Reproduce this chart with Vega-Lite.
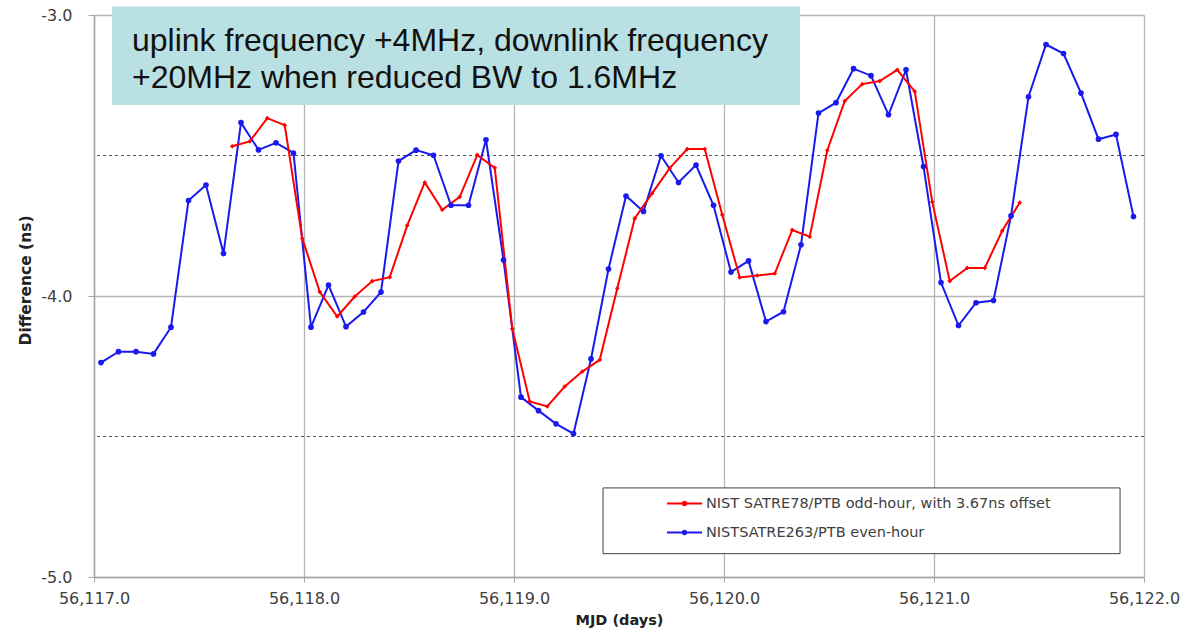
{
  "$schema": "https://vega.github.io/schema/vega-lite/v6.json",
  "width": 1050,
  "height": 562,
  "autosize": "none",
  "padding": {"left": 94, "top": 15, "right": 40, "bottom": 61},
  "background": "white",
  "config": {"view": {"stroke": null}, "font": "DejaVu Sans"},
  "datasets": {
    "d": [
      {"mjd": 56117.0333, "diff": -4.237, "series": "NISTSATRE263/PTB even-hour"},
      {"mjd": 56117.1167, "diff": -4.198, "series": "NISTSATRE263/PTB even-hour"},
      {"mjd": 56117.2000, "diff": -4.198, "series": "NISTSATRE263/PTB even-hour"},
      {"mjd": 56117.2833, "diff": -4.206, "series": "NISTSATRE263/PTB even-hour"},
      {"mjd": 56117.3667, "diff": -4.111, "series": "NISTSATRE263/PTB even-hour"},
      {"mjd": 56117.4500, "diff": -3.660, "series": "NISTSATRE263/PTB even-hour"},
      {"mjd": 56117.5333, "diff": -3.605, "series": "NISTSATRE263/PTB even-hour"},
      {"mjd": 56117.6167, "diff": -3.849, "series": "NISTSATRE263/PTB even-hour"},
      {"mjd": 56117.7000, "diff": -3.383, "series": "NISTSATRE263/PTB even-hour"},
      {"mjd": 56117.7833, "diff": -3.480, "series": "NISTSATRE263/PTB even-hour"},
      {"mjd": 56117.8667, "diff": -3.455, "series": "NISTSATRE263/PTB even-hour"},
      {"mjd": 56117.9500, "diff": -3.491, "series": "NISTSATRE263/PTB even-hour"},
      {"mjd": 56118.0333, "diff": -4.111, "series": "NISTSATRE263/PTB even-hour"},
      {"mjd": 56118.1167, "diff": -3.961, "series": "NISTSATRE263/PTB even-hour"},
      {"mjd": 56118.2000, "diff": -4.109, "series": "NISTSATRE263/PTB even-hour"},
      {"mjd": 56118.2833, "diff": -4.057, "series": "NISTSATRE263/PTB even-hour"},
      {"mjd": 56118.3667, "diff": -3.986, "series": "NISTSATRE263/PTB even-hour"},
      {"mjd": 56118.4500, "diff": -3.520, "series": "NISTSATRE263/PTB even-hour"},
      {"mjd": 56118.5333, "diff": -3.481, "series": "NISTSATRE263/PTB even-hour"},
      {"mjd": 56118.6167, "diff": -3.499, "series": "NISTSATRE263/PTB even-hour"},
      {"mjd": 56118.7000, "diff": -3.677, "series": "NISTSATRE263/PTB even-hour"},
      {"mjd": 56118.7833, "diff": -3.677, "series": "NISTSATRE263/PTB even-hour"},
      {"mjd": 56118.8667, "diff": -3.444, "series": "NISTSATRE263/PTB even-hour"},
      {"mjd": 56118.9500, "diff": -3.872, "series": "NISTSATRE263/PTB even-hour"},
      {"mjd": 56119.0333, "diff": -4.360, "series": "NISTSATRE263/PTB even-hour"},
      {"mjd": 56119.1167, "diff": -4.408, "series": "NISTSATRE263/PTB even-hour"},
      {"mjd": 56119.2000, "diff": -4.455, "series": "NISTSATRE263/PTB even-hour"},
      {"mjd": 56119.2833, "diff": -4.490, "series": "NISTSATRE263/PTB even-hour"},
      {"mjd": 56119.3667, "diff": -4.224, "series": "NISTSATRE263/PTB even-hour"},
      {"mjd": 56119.4500, "diff": -3.904, "series": "NISTSATRE263/PTB even-hour"},
      {"mjd": 56119.5333, "diff": -3.644, "series": "NISTSATRE263/PTB even-hour"},
      {"mjd": 56119.6167, "diff": -3.699, "series": "NISTSATRE263/PTB even-hour"},
      {"mjd": 56119.7000, "diff": -3.501, "series": "NISTSATRE263/PTB even-hour"},
      {"mjd": 56119.7833, "diff": -3.596, "series": "NISTSATRE263/PTB even-hour"},
      {"mjd": 56119.8667, "diff": -3.534, "series": "NISTSATRE263/PTB even-hour"},
      {"mjd": 56119.9500, "diff": -3.677, "series": "NISTSATRE263/PTB even-hour"},
      {"mjd": 56120.0333, "diff": -3.915, "series": "NISTSATRE263/PTB even-hour"},
      {"mjd": 56120.1167, "diff": -3.875, "series": "NISTSATRE263/PTB even-hour"},
      {"mjd": 56120.2000, "diff": -4.091, "series": "NISTSATRE263/PTB even-hour"},
      {"mjd": 56120.2833, "diff": -4.056, "series": "NISTSATRE263/PTB even-hour"},
      {"mjd": 56120.3667, "diff": -3.818, "series": "NISTSATRE263/PTB even-hour"},
      {"mjd": 56120.4500, "diff": -3.349, "series": "NISTSATRE263/PTB even-hour"},
      {"mjd": 56120.5333, "diff": -3.312, "series": "NISTSATRE263/PTB even-hour"},
      {"mjd": 56120.6167, "diff": -3.191, "series": "NISTSATRE263/PTB even-hour"},
      {"mjd": 56120.7000, "diff": -3.216, "series": "NISTSATRE263/PTB even-hour"},
      {"mjd": 56120.7833, "diff": -3.355, "series": "NISTSATRE263/PTB even-hour"},
      {"mjd": 56120.8667, "diff": -3.195, "series": "NISTSATRE263/PTB even-hour"},
      {"mjd": 56120.9500, "diff": -3.539, "series": "NISTSATRE263/PTB even-hour"},
      {"mjd": 56121.0333, "diff": -3.952, "series": "NISTSATRE263/PTB even-hour"},
      {"mjd": 56121.1167, "diff": -4.105, "series": "NISTSATRE263/PTB even-hour"},
      {"mjd": 56121.2000, "diff": -4.024, "series": "NISTSATRE263/PTB even-hour"},
      {"mjd": 56121.2833, "diff": -4.016, "series": "NISTSATRE263/PTB even-hour"},
      {"mjd": 56121.3667, "diff": -3.715, "series": "NISTSATRE263/PTB even-hour"},
      {"mjd": 56121.4500, "diff": -3.291, "series": "NISTSATRE263/PTB even-hour"},
      {"mjd": 56121.5333, "diff": -3.105, "series": "NISTSATRE263/PTB even-hour"},
      {"mjd": 56121.6167, "diff": -3.137, "series": "NISTSATRE263/PTB even-hour"},
      {"mjd": 56121.7000, "diff": -3.278, "series": "NISTSATRE263/PTB even-hour"},
      {"mjd": 56121.7833, "diff": -3.442, "series": "NISTSATRE263/PTB even-hour"},
      {"mjd": 56121.8667, "diff": -3.425, "series": "NISTSATRE263/PTB even-hour"},
      {"mjd": 56121.9500, "diff": -3.717, "series": "NISTSATRE263/PTB even-hour"},
      {"mjd": 56117.6583, "diff": -3.467, "series": "NIST SATRE78/PTB odd-hour, with 3.67ns offset"},
      {"mjd": 56117.7417, "diff": -3.450, "series": "NIST SATRE78/PTB odd-hour, with 3.67ns offset"},
      {"mjd": 56117.8250, "diff": -3.367, "series": "NIST SATRE78/PTB odd-hour, with 3.67ns offset"},
      {"mjd": 56117.9083, "diff": -3.392, "series": "NIST SATRE78/PTB odd-hour, with 3.67ns offset"},
      {"mjd": 56117.9917, "diff": -3.795, "series": "NIST SATRE78/PTB odd-hour, with 3.67ns offset"},
      {"mjd": 56118.0750, "diff": -3.985, "series": "NIST SATRE78/PTB odd-hour, with 3.67ns offset"},
      {"mjd": 56118.1583, "diff": -4.073, "series": "NIST SATRE78/PTB odd-hour, with 3.67ns offset"},
      {"mjd": 56118.2417, "diff": -4.002, "series": "NIST SATRE78/PTB odd-hour, with 3.67ns offset"},
      {"mjd": 56118.3250, "diff": -3.947, "series": "NIST SATRE78/PTB odd-hour, with 3.67ns offset"},
      {"mjd": 56118.4083, "diff": -3.933, "series": "NIST SATRE78/PTB odd-hour, with 3.67ns offset"},
      {"mjd": 56118.4917, "diff": -3.749, "series": "NIST SATRE78/PTB odd-hour, with 3.67ns offset"},
      {"mjd": 56118.5750, "diff": -3.596, "series": "NIST SATRE78/PTB odd-hour, with 3.67ns offset"},
      {"mjd": 56118.6583, "diff": -3.693, "series": "NIST SATRE78/PTB odd-hour, with 3.67ns offset"},
      {"mjd": 56118.7417, "diff": -3.647, "series": "NIST SATRE78/PTB odd-hour, with 3.67ns offset"},
      {"mjd": 56118.8250, "diff": -3.498, "series": "NIST SATRE78/PTB odd-hour, with 3.67ns offset"},
      {"mjd": 56118.9083, "diff": -3.544, "series": "NIST SATRE78/PTB odd-hour, with 3.67ns offset"},
      {"mjd": 56118.9917, "diff": -4.116, "series": "NIST SATRE78/PTB odd-hour, with 3.67ns offset"},
      {"mjd": 56119.0750, "diff": -4.375, "series": "NIST SATRE78/PTB odd-hour, with 3.67ns offset"},
      {"mjd": 56119.1583, "diff": -4.393, "series": "NIST SATRE78/PTB odd-hour, with 3.67ns offset"},
      {"mjd": 56119.2417, "diff": -4.322, "series": "NIST SATRE78/PTB odd-hour, with 3.67ns offset"},
      {"mjd": 56119.3250, "diff": -4.269, "series": "NIST SATRE78/PTB odd-hour, with 3.67ns offset"},
      {"mjd": 56119.4083, "diff": -4.227, "series": "NIST SATRE78/PTB odd-hour, with 3.67ns offset"},
      {"mjd": 56119.4917, "diff": -3.973, "series": "NIST SATRE78/PTB odd-hour, with 3.67ns offset"},
      {"mjd": 56119.5750, "diff": -3.724, "series": "NIST SATRE78/PTB odd-hour, with 3.67ns offset"},
      {"mjd": 56119.6583, "diff": -3.634, "series": "NIST SATRE78/PTB odd-hour, with 3.67ns offset"},
      {"mjd": 56119.7417, "diff": -3.545, "series": "NIST SATRE78/PTB odd-hour, with 3.67ns offset"},
      {"mjd": 56119.8250, "diff": -3.477, "series": "NIST SATRE78/PTB odd-hour, with 3.67ns offset"},
      {"mjd": 56119.9083, "diff": -3.477, "series": "NIST SATRE78/PTB odd-hour, with 3.67ns offset"},
      {"mjd": 56119.9917, "diff": -3.711, "series": "NIST SATRE78/PTB odd-hour, with 3.67ns offset"},
      {"mjd": 56120.0750, "diff": -3.934, "series": "NIST SATRE78/PTB odd-hour, with 3.67ns offset"},
      {"mjd": 56120.1583, "diff": -3.927, "series": "NIST SATRE78/PTB odd-hour, with 3.67ns offset"},
      {"mjd": 56120.2417, "diff": -3.920, "series": "NIST SATRE78/PTB odd-hour, with 3.67ns offset"},
      {"mjd": 56120.3250, "diff": -3.765, "series": "NIST SATRE78/PTB odd-hour, with 3.67ns offset"},
      {"mjd": 56120.4083, "diff": -3.789, "series": "NIST SATRE78/PTB odd-hour, with 3.67ns offset"},
      {"mjd": 56120.4917, "diff": -3.482, "series": "NIST SATRE78/PTB odd-hour, with 3.67ns offset"},
      {"mjd": 56120.5750, "diff": -3.306, "series": "NIST SATRE78/PTB odd-hour, with 3.67ns offset"},
      {"mjd": 56120.6583, "diff": -3.246, "series": "NIST SATRE78/PTB odd-hour, with 3.67ns offset"},
      {"mjd": 56120.7417, "diff": -3.235, "series": "NIST SATRE78/PTB odd-hour, with 3.67ns offset"},
      {"mjd": 56120.8250, "diff": -3.195, "series": "NIST SATRE78/PTB odd-hour, with 3.67ns offset"},
      {"mjd": 56120.9083, "diff": -3.272, "series": "NIST SATRE78/PTB odd-hour, with 3.67ns offset"},
      {"mjd": 56120.9917, "diff": -3.665, "series": "NIST SATRE78/PTB odd-hour, with 3.67ns offset"},
      {"mjd": 56121.0750, "diff": -3.947, "series": "NIST SATRE78/PTB odd-hour, with 3.67ns offset"},
      {"mjd": 56121.1583, "diff": -3.900, "series": "NIST SATRE78/PTB odd-hour, with 3.67ns offset"},
      {"mjd": 56121.2417, "diff": -3.900, "series": "NIST SATRE78/PTB odd-hour, with 3.67ns offset"},
      {"mjd": 56121.3250, "diff": -3.768, "series": "NIST SATRE78/PTB odd-hour, with 3.67ns offset"},
      {"mjd": 56121.4083, "diff": -3.668, "series": "NIST SATRE78/PTB odd-hour, with 3.67ns offset"}
    ]
  },
  "layer": [
    {
      "data": {"values": [{"level": -3.5}, {"level": -4.5}]},
      "mark": {"type": "rule", "color": "#555555", "strokeDash": [3, 3], "strokeWidth": 1},
      "encoding": {
        "y": {"field": "level", "type": "quantitative", "scale": {"domain": [-5, -3], "nice": false, "zero": false}}
      }
    },
    {
      "data": {"name": "d"},
      "mark": {"type": "line", "strokeWidth": 2},
      "encoding": {
        "x": {
          "field": "mjd", "type": "quantitative",
          "scale": {"domain": [56117, 56122], "nice": false, "zero": false},
          "axis": {
            "values": [56117, 56118, 56119, 56120, 56121, 56122],
            "format": ",.1f",
            "title": "MJD (days)",
            "grid": true, "gridColor": "#b4b4b4", "gridWidth": 1.3,
            "domainColor": "#a6a6a6", "domainWidth": 1.5,
            "tickColor": "#a6a6a6", "tickSize": 5,
            "labelFont": "DejaVu Sans", "labelFontSize": 16, "labelColor": "#404040",
            "labelPadding": 8, "labelFlush": false,
            "titleFont": "DejaVu Sans", "titleFontWeight": "bold", "titleFontSize": 14.5,
            "titleColor": "#222222", "titlePadding": 7
          }
        },
        "y": {
          "field": "diff", "type": "quantitative",
          "scale": {"domain": [-5, -3], "nice": false, "zero": false},
          "axis": {
            "values": [-5, -4, -3],
            "labelExpr": "'-' + format(-datum.value, '.1f')",
            "title": "Difference (ns)",
            "titleY": 265,
            "grid": true, "gridColor": "#b4b4b4", "gridWidth": 1.3,
            "domainColor": "#a6a6a6", "domainWidth": 1.5,
            "tickColor": "#a6a6a6", "tickSize": 6,
            "labelFont": "DejaVu Sans", "labelFontSize": 16, "labelColor": "#404040",
            "labelPadding": 16,
            "titleFont": "DejaVu Sans", "titleFontWeight": "bold", "titleFontSize": 15.5,
            "titleColor": "#222222", "titlePadding": 7
          }
        },
        "color": {
          "field": "series", "type": "nominal",
          "scale": {
            "domain": ["NIST SATRE78/PTB odd-hour, with 3.67ns offset", "NISTSATRE263/PTB even-hour"],
            "range": ["#ff0000", "#1a1aee"]
          },
          "legend": {
            "title": null,
            "orient": "none",
            "legendX": 572,
            "legendY": 470,
            "padding": 0,
            "symbolType": "M-1,0L1,0M-0.1,0A0.1,0.1,0,1,0,0.1,0A0.1,0.1,0,1,0,-0.1,0Z",
            "symbolSize": 1225,
            "symbolStrokeWidth": 2,
            "labelFont": "DejaVu Sans",
            "labelFontSize": 14.5,
            "labelColor": "#404040",
            "labelOffset": 3,
            "labelLimit": 0,
            "rowPadding": 4,
            "encode": {
              "symbols": {
                "update": {
                  "fill": {"scale": "color", "field": "value"},
                  "stroke": {"scale": "color", "field": "value"},
                  "strokeWidth": {"value": 2}
                }
              }
            }
          }
        }
      }
    },
    {
      "data": {"name": "d"},
      "transform": [{"filter": "datum.series === 'NIST SATRE78/PTB odd-hour, with 3.67ns offset'"}],
      "mark": {"type": "point", "filled": true, "opacity": 1, "shape": "diamond", "size": 22, "color": "#ff0000"},
      "encoding": {
        "x": {"field": "mjd", "type": "quantitative"},
        "y": {"field": "diff", "type": "quantitative"}
      }
    },
    {
      "data": {"name": "d"},
      "transform": [{"filter": "datum.series === 'NISTSATRE263/PTB even-hour'"}],
      "mark": {"type": "point", "filled": true, "opacity": 1, "shape": "circle", "size": 32, "color": "#1a1aee"},
      "encoding": {
        "x": {"field": "mjd", "type": "quantitative"},
        "y": {"field": "diff", "type": "quantitative"}
      }
    },
    {
      "data": {"values": [{}]},
      "mark": {"type": "rect", "fill": "white", "stroke": "#404040", "strokeWidth": 1},
      "encoding": {
        "x": {"datum": 56119.424},
        "x2": {"datum": 56121.886},
        "y": {"datum": -4.683},
        "y2": {"datum": -4.917}
      }
    },
    {
      "data": {"values": [{}]},
      "mark": {"type": "rect", "fill": "#b9e0e3"},
      "encoding": {
        "x": {"datum": 56117.086},
        "x2": {"datum": 56120.362},
        "y": {"datum": -2.97},
        "y2": {"datum": -3.32}
      }
    },
    {
      "data": {"values": [{}]},
      "mark": {
        "type": "text", "align": "left", "baseline": "alphabetic",
        "font": "Liberation Sans", "fontSize": 32, "lineHeight": 37, "color": "#111111"
      },
      "encoding": {
        "x": {"datum": 56117.181},
        "y": {"datum": -3.128},
        "text": {"value": ["uplink frequency +4MHz, downlink frequency", "+20MHz when reduced BW to 1.6MHz"]}
      }
    }
  ]
}
